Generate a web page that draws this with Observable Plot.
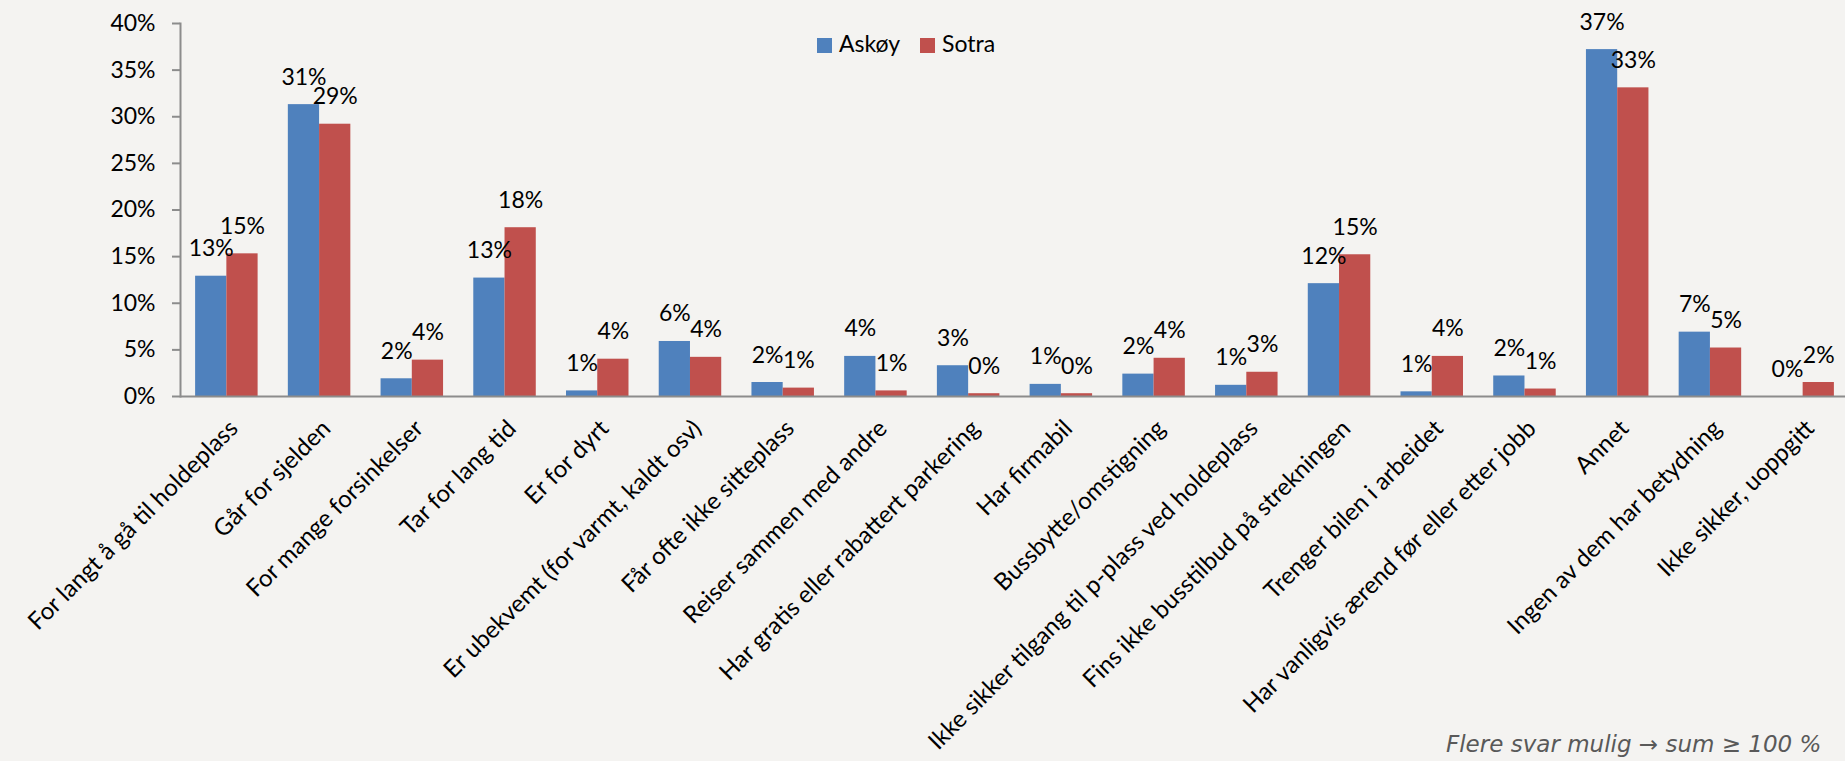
<!DOCTYPE html>
<html><head><meta charset="utf-8">
<script src="https://cdn.jsdelivr.net/npm/d3@7"></script>
<script src="https://cdn.jsdelivr.net/npm/@observablehq/plot@0.6"></script>
<style>
html,body{margin:0;padding:0;background:#f4f3f1;overflow:hidden}
#wrap{position:relative;width:1845px;height:761px;overflow:hidden}
#wrap svg{position:absolute;left:0;top:0}
.sw{position:absolute;width:15px;height:15px;top:38px}
.lt{position:absolute;top:32px;font:23px Lato, sans-serif;line-height:23px;color:#000;white-space:nowrap}
#note{position:absolute;left:1446px;top:732px;font:italic 23px "DejaVu Sans", Verdana, sans-serif;line-height:24px;color:#595959;white-space:nowrap}
</style></head><body>
<div id="wrap"></div>
<script>
const categories = [
  "For langt å gå til holdeplass",
  "Går for sjelden",
  "For mange forsinkelser",
  "Tar for lang tid",
  "Er for dyrt",
  "Er ubekvemt (for varmt, kaldt osv)",
  "Får ofte ikke sitteplass",
  "Reiser sammen med andre",
  "Har gratis eller rabattert parkering",
  "Har firmabil",
  "Bussbytte/omstigning",
  "Ikke sikker tilgang til p-plass ved holdeplass",
  "Fins ikke busstilbud på strekningen",
  "Trenger bilen i arbeidet",
  "Har vanligvis ærend før eller etter jobb",
  "Annet",
  "Ingen av dem har betydning",
  "Ikke sikker, uoppgitt"
];
const seriesNames = ["Askøy", "Sotra"];
const askoy = [12.9, 31.3, 1.9, 12.7, 0.6, 5.9, 1.5, 4.3, 3.3, 1.3, 2.4, 1.2, 12.1, 0.5, 2.2, 37.2, 6.9, 0];
const sotra = [15.3, 29.2, 3.9, 18.1, 4.0, 4.2, 0.9, 0.6, 0.3, 0.3, 4.1, 2.6, 15.2, 4.3, 0.8, 33.1, 5.2, 1.5];
const yTicks = [0, 5, 10, 15, 20, 25, 30, 35, 40];
const colors = ["#4f81bd", "#c0504d"];
const note = "Flere svar mulig → sum ≥ 100 %";

const W = 1845, H = 761, ML = 180, MR = -4, MT = 23, MB = 365;
const padInner = 0.326, padOuter = 0.163;
const step = (W - ML - MR) / (categories.length - padInner + 2 * padOuter);
const half = step * (1 - padInner) / 2;

const rowsA = categories.map((c, i) => ({cat: c, series: seriesNames[0], v: askoy[i]}));
const rowsS = categories.map((c, i) => ({cat: c, series: seriesNames[1], v: sotra[i]}));
const fmt = d => Math.round(d.v) + "%";

const chart = Plot.plot({
  width: W, height: H,
  marginLeft: ML, marginRight: MR, marginTop: MT, marginBottom: MB,
  style: {background: "transparent", fontFamily: "Lato, sans-serif", fontSize: "23px", color: "#000", overflow: "visible"},
  x: {domain: categories, paddingInner: padInner, paddingOuter: padOuter, round: false, axis: null},
  y: {domain: [0, 40], axis: null},
  color: {domain: seriesNames, range: colors},
  marks: [
    Plot.barY(rowsA, {x: "cat", y: "v", fill: "series", insetRight: half}),
    Plot.barY(rowsS, {x: "cat", y: "v", fill: "series", insetLeft: half}),
    Plot.ruleY([0], {stroke: "#8c8c8c", strokeWidth: 2}),
    Plot.frame({anchor: "left", stroke: "#8c8c8c", strokeWidth: 2}),
    Plot.axisY({ticks: yTicks, tickFormat: d => d + "%", label: null, tickSize: 8, tickPadding: 17, stroke: "#8c8c8c", strokeWidth: 2, fill: "#000", fontSize: 23}),
    Plot.text(rowsA, {x: "cat", y: "v", text: fmt, dx: -half / 2, dy: -20, lineAnchor: "bottom", fill: "#000", fontSize: 23}),
    Plot.text(rowsS, {x: "cat", y: "v", text: fmt, dx: half / 2, dy: -20, lineAnchor: "bottom", fill: "#000", fontSize: 23}),
    Plot.text(categories, {x: d => d, frameAnchor: "bottom", rotate: -45, textAnchor: "end", lineAnchor: "middle", dx: 7, dy: 28, fill: "#000", fontSize: 24})
  ]
});
const wrap = document.getElementById("wrap");
wrap.appendChild(chart);

// legend
const legendX = [817, 920];
const legendTextX = [839, 942];
seriesNames.forEach((s, i) => {
  const sw = document.createElement("div");
  sw.className = "sw"; sw.style.left = legendX[i] + "px"; sw.style.background = colors[i];
  wrap.appendChild(sw);
  const t = document.createElement("div");
  t.className = "lt"; t.style.left = legendTextX[i] + "px"; t.textContent = s;
  wrap.appendChild(t);
});
const n = document.createElement("div");
n.id = "note"; n.textContent = note;
wrap.appendChild(n);
</script>
</body></html>
